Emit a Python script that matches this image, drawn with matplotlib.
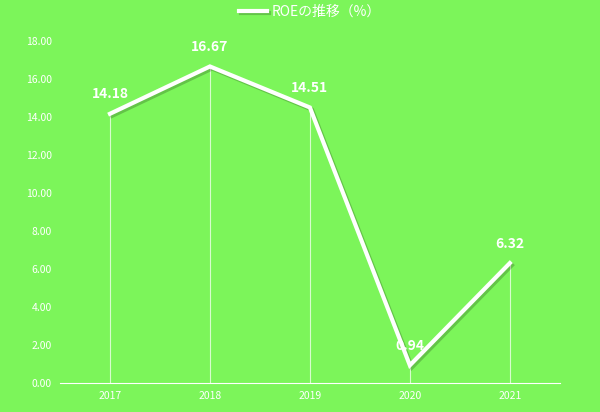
import matplotlib.pyplot as plt
import matplotlib.patheffects as pe

plt.rcParams['font.family'] = ['Noto Sans CJK JP', 'DejaVu Sans']

years = ["2017", "2018", "2019", "2020", "2021"]
roe = [14.18, 16.67, 14.51, 0.94, 6.32]
yticks = [0, 2, 4, 6, 8, 10, 12, 14, 16, 18]

bg = "#7cf55a"
fig = plt.figure(figsize=(6, 4.12), dpi=100, facecolor=bg)
ax = fig.add_axes([0.1, 0.07, 0.833, 0.83], facecolor=bg)
x = list(range(len(years)))

ax.vlines(x, 0, roe, colors="white", lw=0.8, alpha=0.7)
ax.plot(x, roe, color="white", lw=3, solid_joinstyle="miter", label="ROEの推移（%）",
        path_effects=[pe.SimpleLineShadow(offset=(1.5, -1.5), alpha=0.2), pe.Normal()])
for xi, v in zip(x, roe):
    ax.annotate(f"{v:.2f}", (xi, v), xytext=(0, 9), textcoords="offset points",
                ha="center", va="bottom", color="white", fontsize=10, fontweight="bold")

ax.set_xlim(-0.5, 4.5)
ax.set_ylim(0, 18)
ax.set_xticks(x, years)
ax.set_yticks(yticks, [f"{t:.2f}" for t in yticks])
ax.tick_params(colors="white", labelsize=7.5, length=0, pad=6)
for s in ["top", "right", "left"]:
    ax.spines[s].set_visible(False)
ax.spines["bottom"].set_color("white")
ax.legend(loc="lower center", bbox_to_anchor=(0.5, 1.03), frameon=False,
          labelcolor="white", fontsize=10, handlelength=2, handletextpad=0.3)
fig.savefig("out.png", facecolor=bg)
